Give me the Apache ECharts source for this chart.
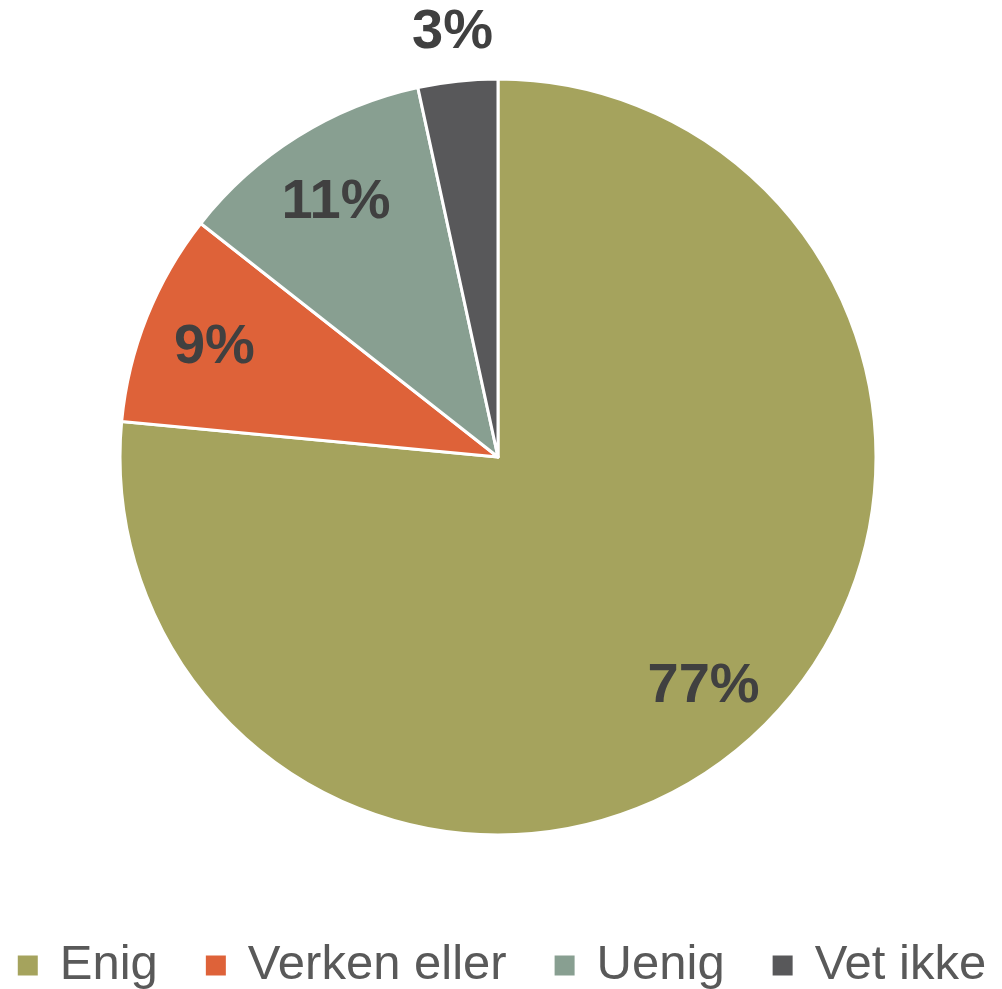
<!DOCTYPE html>
<html>
<head>
<meta charset="utf-8">
<script src="https://cdn.jsdelivr.net/npm/echarts@6/dist/echarts.min.js"></script>
<style>
  html, body { margin: 0; padding: 0; background: #fff; }
  #chart { width: 1002px; height: 989px; }
</style>
</head>
<body>
<div id="chart"></div>
<script>
const categories = ["Enig", "Verken eller", "Uenig", "Vet ikke"];
const values = [76.5, 9.1, 11.0, 3.4];
const colors = ["#A5A35D", "#DE6239", "#889F91", "#58585A"];
// which slice gets its label outside the pie
const outsideLabel = ["Vet ikke"];

const center = [498, 457];
const R = 378;

const labelStyle = {
  fontFamily: "'Liberation Sans', Arial, sans-serif",
  fontWeight: "bold",
  fontSize: 56,
  color: "#404040",
  formatter: p => Math.round(p.percent) + "%"
};

const pieData = categories.map((name, i) => ({
  name: name,
  value: values[i],
  itemStyle: { color: colors[i] }
}));

const option = {
  animation: false,
  legend: {
    data: categories,
    bottom: -6,
    left: "center",
    icon: "rect",
    itemWidth: 22,
    itemHeight: 22,
    itemGap: 46,
    textStyle: {
      fontFamily: "'Liberation Sans', Arial, sans-serif",
      fontSize: 49,
      color: "#595959",
      padding: [0, 0, 0, 16]
    }
  },
  series: [
    {
      type: "pie",
      center: center,
      radius: [0, R],
      startAngle: 90,
      clockwise: true,
      silent: true,
      label: { show: false },
      labelLine: { show: false },
      itemStyle: { borderColor: "#fff", borderWidth: 3 },
      data: pieData
    },
    {
      // label carrier for the inside labels (placed at ~0.8 R)
      type: "pie",
      center: center,
      radius: [R * 0.6, R],
      startAngle: 90,
      silent: true,
      itemStyle: { color: "transparent" },
      labelLine: { show: false },
      label: Object.assign({ show: true, position: "inside", offset: [0, 4] }, labelStyle),
      data: categories.map((name, i) => ({
        name: name,
        value: values[i],
        label: { show: outsideLabel.indexOf(name) < 0 }
      }))
    },
    {
      // label carrier for the small slice label outside the pie
      type: "pie",
      center: center,
      radius: [R + 24, R + 68],
      startAngle: 90,
      silent: true,
      itemStyle: { color: "transparent" },
      labelLine: { show: false },
      label: Object.assign({ show: true, position: "inside" }, labelStyle),
      data: categories.map((name, i) => ({
        name: name,
        value: values[i],
        label: { show: outsideLabel.indexOf(name) >= 0 }
      }))
    }
  ]
};

const chart = echarts.init(document.getElementById("chart"));
chart.setOption(option);
</script>
</body>
</html>
